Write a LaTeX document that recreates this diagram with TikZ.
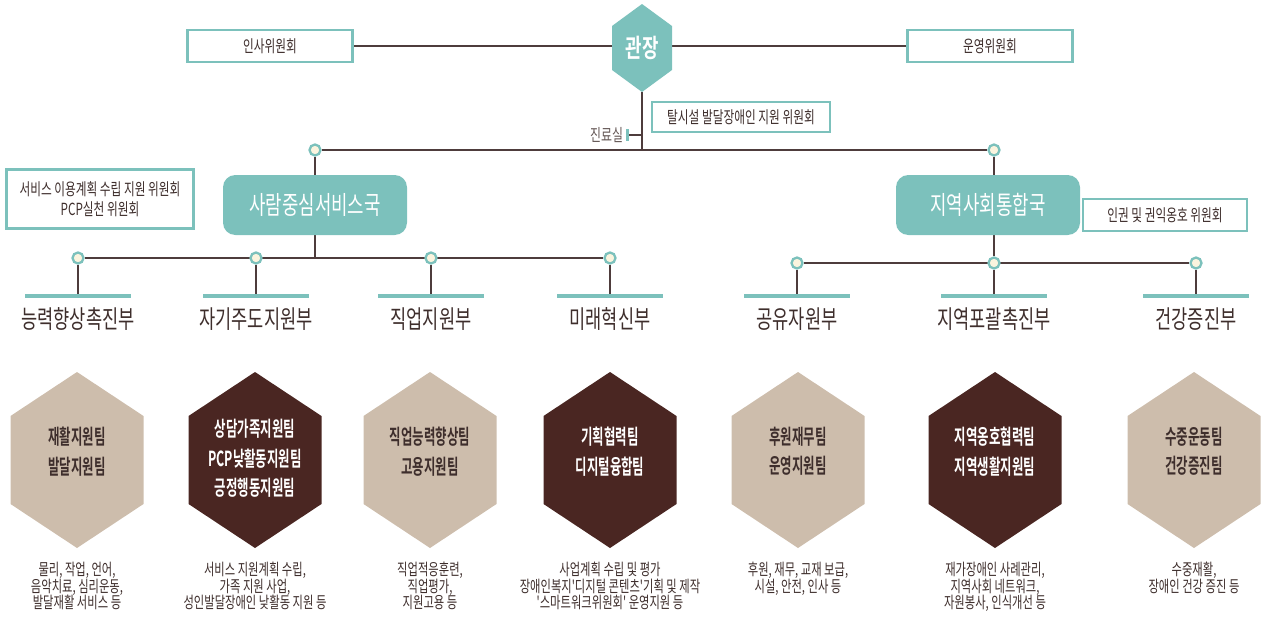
\documentclass[tikz,border=0pt]{standalone}
\usepackage{fontspec}
\usepackage{tikz}
\usetikzlibrary{calc, positioning, backgrounds}
\newfontfamily\kr[FakeStretch=0.7, BoldFont={Noto Sans CJK KR Bold}]{Noto Sans CJK KR}
\newfontfamily\krc[FakeStretch=0.6, BoldFont={Noto Sans CJK KR Bold}]{Noto Sans CJK KR}
\definecolor{mint}{RGB}{124,193,188}
\definecolor{beige}{RGB}{205,189,172}
\definecolor{cocoa}{RGB}{74,38,34}
\definecolor{wire}{RGB}{78,60,60}
\definecolor{cream}{RGB}{251,244,222}
\definecolor{ink}{RGB}{62,46,44}
\def\pixel{0.02cm}
\newcommand{\tightlines}{\lineskiplimit=-20pt\relax\lineskip=0pt\relax}
\newcommand{\hexpath}[1]{\fill[#1] (path picture bounding box.north)
  -- ($(path picture bounding box.north east)!.25!(path picture bounding box.south east)$)
  -- ($(path picture bounding box.north east)!.75!(path picture bounding box.south east)$)
  -- (path picture bounding box.south)
  -- ($(path picture bounding box.north west)!.75!(path picture bounding box.south west)$)
  -- ($(path picture bounding box.north west)!.25!(path picture bounding box.south west)$)
  -- cycle;}
\tikzstyle{link}=[draw=wire, line width=1pt]
\tikzstyle{committee}=[draw=mint, line width=1.6pt, fill=white, inner sep=0pt, minimum height=32*\pixel, text=ink, align=center, font=\kr\fontsize{9.5}{13}\selectfont]
\tikzstyle{head}=[minimum width=60*\pixel, minimum height=88*\pixel, inner sep=0pt, text=white, font=\kr\bfseries\fontsize{14.5}{16}\selectfont, path picture={\hexpath{mint}}]
\tikzstyle{bureau}=[rounded corners=7pt, fill=mint, text=white, minimum width=184*\pixel, minimum height=60*\pixel, font=\kr\fontsize{14.5}{16}\selectfont]
\tikzstyle{joint}=[circle, draw=mint, fill=cream, line width=1.3pt, minimum size=11*\pixel, inner sep=0pt]
\tikzstyle{dept bar}=[fill=mint, minimum width=106*\pixel, minimum height=4*\pixel, inner sep=0pt]
\tikzstyle{dept}=[text=ink, font=\kr\fontsize{14.3}{16}\selectfont]
\tikzstyle{team}=[minimum width=133*\pixel, minimum height=176*\pixel, inner sep=0pt, align=center, font=\krc\bfseries\fontsize{11.8}{17}\selectfont]
\tikzstyle{team light}=[team, text=ink, path picture={\hexpath{beige}}]
\tikzstyle{team dark}=[team, text=white, path picture={\hexpath{cocoa}}]
\tikzstyle{duty}=[text=ink, align=center, anchor=north, inner sep=0pt, font=\kr\fontsize{9.2}{9.3}\selectfont\tightlines]

\begin{document}
\begin{tikzpicture}[x=\pixel, y=-\pixel]
		\useasboundingbox (0,0) rectangle (1264,616);

		% Draw the director and the committees around him
		\node[head] (gwan) at (642,48) {관장};
		\node[committee, minimum width=165*\pixel] (insa) at (270,46) {인사위원회};
		\node[committee, minimum width=165*\pixel] (unyeong) at (990,46) {운영위원회};
		\node[committee, minimum width=178*\pixel, minimum height=30*\pixel] (talsi) at (741,117) {탈시설 발달장애인 지원 위원회};
		\node[fill=mint, minimum width=3*\pixel, minimum height=12*\pixel, inner sep=0pt] (clinic-bar) at (627,135) {};
		\node[left=1pt of clinic-bar, inner sep=0pt, text=ink!80, font=\kr\fontsize{9.7}{11}\selectfont] (clinic) {진료실};

		% Draw the two bureaus
		\node[joint] (B-1) at (315,150) {};
		\node[joint] (B-2) at (994,150) {};
		\node[bureau] (person) at (315,205) {사람중심서비스국};
		\node[bureau] (community) at (988,205) {지역사회통합국};
		\node[committee, minimum width=187*\pixel, minimum height=59*\pixel, font=\kr\fontsize{9.5}{11.5}\selectfont] (plan) at (100,199) {서비스 이용계획 수립 지원 위원회\\PCP실천 위원회};
		\node[committee, minimum width=164*\pixel] (rights) at (1165,215) {인권 및 권익옹호 위원회};

		% Draw the departments
		\foreach \name / \x / \y / \deptname in {1/78/258/능력향상촉진부, 2/256/258/자기주도지원부, 3/431/258/직업지원부, 4/610/258/미래혁신부, 5/797/263/공유자원부, 6/994/263/지역포괄촉진부, 7/1196/263/건강증진부}
		{
		\node[joint] (D-\name) at (\x,\y) {};
		\node[dept bar] (R-\name) at (\x,296) {};
		\node[dept] (L-\name) at (\x,319) {\deptname};
		}

		% Draw the teams and what they do
		\foreach \name / \x / \kind / \depth / \teams / \duties in {
			1/77/light/11/{재활지원팀\\발달지원팀}/{물리, 작업, 언어,\\음악치료, 심리운동,\\발달재활 서비스 등},
			2/255/dark/3/{상담가족지원팀\\PCP낮활동지원팀\\긍정행동지원팀}/{서비스 지원계획 수립,\\가족 지원 사업,\\성인발달장애인 낮활동 지원 등},
			3/430/light/11/{직업능력향상팀\\고용지원팀}/{직업적응훈련,\\직업평가,\\지원고용 등},
			4/610/dark/11/{기획협력팀\\디지털융합팀}/{사업계획 수립 및 평가\\장애인복지'디지털 콘텐츠'기획 및 제작\\'스마트워크위원회' 운영지원 등},
			5/798/light/11/{후원재무팀\\운영지원팀}/{후원, 재무, 교재 보급,\\시설, 안전, 인사 등},
			6/995/dark/11/{지역옹호협력팀\\지역생활지원팀}/{재가장애인 사례관리,\\지역사회 네트워크,\\자원봉사, 인식개선 등},
			7/1194/light/11/{수중운동팀\\건강증진팀}/{수중재활,\\장애인 건강 증진 등}}
		{
		\node[team \kind, text depth=\depth pt] (T-\name) at (\x,460) {\teams};
		\node[duty] (S-\name) at (\x,562) {\duties};
		}

		% Connect everything
		\begin{scope}[on background layer]
		\draw[link] (insa.east) -- (insa.east -| gwan.west);
		\draw[link] (unyeong.west -| gwan.east) -- (unyeong.west);
		\draw[link] (gwan.south) -- (gwan.south |- B-1);
		\draw[link] (clinic-bar) -- (clinic-bar -| gwan.south);
		\draw[link] (B-1) -- (B-2);
		\draw[link] (B-1) -- (person);
		\draw[link] (B-2) -- (B-2 |- community.north);
		\draw[link] (person) -- (person |- D-1);
		\draw[link] (B-2 |- community.south) -- (D-6);
		\draw[link] (D-1) -- (D-4);
		\draw[link] (D-5) -- (D-7);
		\foreach \name in {1,...,7}
		\draw[link] (D-\name) -- (R-\name);
		\end{scope}
\end{tikzpicture}
\end{document}
